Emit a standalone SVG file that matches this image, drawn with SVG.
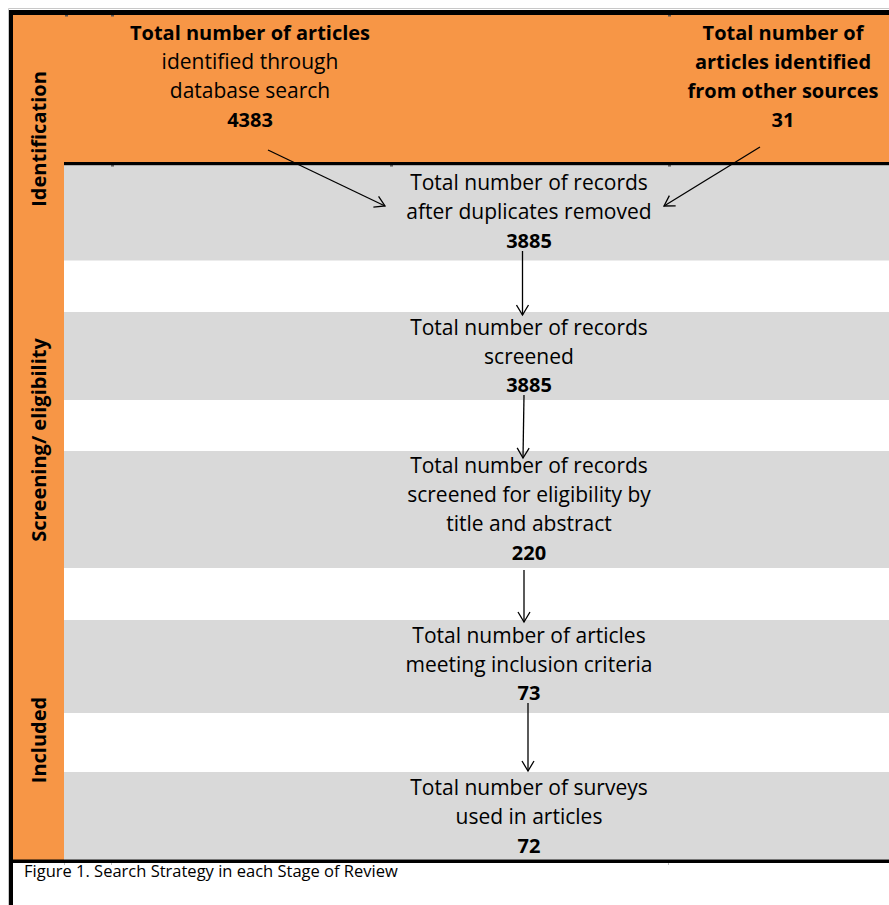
<svg xmlns="http://www.w3.org/2000/svg" width="889" height="905" viewBox="0 0 889 905">
<defs>
<style>
.t{font-family:"Open Sans","Liberation Sans",sans-serif;font-size:21px;fill:#000;text-anchor:middle}
.b{font-weight:bold;font-size:20px}
.lab{font-family:"Open Sans","Liberation Sans",sans-serif;font-size:20px;font-weight:bold;fill:#000;text-anchor:middle}
.cap{font-family:"Open Sans","Liberation Sans",sans-serif;font-size:16.5px;fill:#000}
.or{fill:#F79646}
.gr{fill:#D9D9D9}
.bk{fill:#000}
.tk{fill:#555}
.c{stroke:#000;stroke-width:1.3;fill:none;marker-end:url(#ah)}
</style>
<marker id="ah" markerUnits="userSpaceOnUse" markerWidth="14" markerHeight="14" refX="11" refY="7" orient="auto">
<path d="M1,1 L11,7 L1,13" fill="none" stroke="#000" stroke-width="1.3"/>
</marker>
</defs>
<rect width="889" height="905" fill="#fff"/>
<g id="frame">
<path d="M8.5,905 V8.5 H889" fill="none" stroke="#c8c8c8" stroke-width="1"/>
<rect class="or" x="13" y="15" width="876" height="147"/>
<rect class="or" x="13" y="15" width="51" height="845"/>
<rect class="bk" x="9" y="10" width="880" height="5"/>
<rect class="bk" x="9" y="10" width="4" height="895"/>
<rect class="bk" x="64" y="162" width="825" height="3.5"/>
<rect class="gr" x="64" y="165.5" width="825" height="95"/>
<rect class="gr" x="64" y="312" width="825" height="88"/>
<rect class="gr" x="64" y="451" width="825" height="117"/>
<rect class="gr" x="64" y="620" width="825" height="93"/>
<rect class="gr" x="64" y="772" width="825" height="87.5"/>
<rect class="bk" x="13" y="859.5" width="876" height="3.5"/>
<rect class="tk" x="65" y="15" width="3" height="1.5"/>
<rect class="tk" x="111" y="15" width="3" height="1.5"/>
<rect class="tk" x="668" y="15" width="3" height="1.5"/>
<rect class="tk" x="111" y="165" width="3" height="1.5"/>
<rect class="tk" x="390" y="165" width="3" height="1.5"/>
<rect class="tk" x="668" y="165" width="3" height="1.5"/>
<rect class="tk" x="64" y="863" width="1" height="2" fill-opacity="0.4"/>
<rect class="tk" x="111" y="863" width="1" height="2" fill-opacity="0.4"/>
<rect class="tk" x="668" y="863" width="1" height="2" fill-opacity="0.4"/>
</g>
<g id="stage-identification"><text class="lab" transform="translate(46,139) rotate(-90)">Identification</text></g>
<g id="stage-screening"><text class="lab" transform="translate(46,440) rotate(-90)">Screening/ eligibility</text></g>
<g id="stage-included"><text class="lab" transform="translate(46,740) rotate(-90)">Included</text></g>
<g id="node-database">
<text class="t b" x="250" y="40">Total number of articles</text>
<text class="t" x="250" y="69">identified through</text>
<text class="t" x="250" y="98">database search</text>
<text class="t b" x="250" y="127">4383</text>
</g>
<g id="node-other">
<text class="t b" x="783" y="40">Total number of</text>
<text class="t b" x="783" y="69">articles identified</text>
<text class="t b" x="783" y="98">from other sources</text>
<text class="t b" x="783" y="127">31</text>
</g>
<g id="node-duplicates">
<text class="t" x="529" y="190">Total number of records</text>
<text class="t" x="529" y="219">after duplicates removed</text>
<text class="t b" x="529" y="248">3885</text>
</g>
<g id="node-screened">
<text class="t" x="529" y="335">Total number of records</text>
<text class="t" x="529" y="364">screened</text>
<text class="t b" x="529" y="392">3885</text>
</g>
<g id="node-eligibility">
<text class="t" x="529" y="473">Total number of records</text>
<text class="t" x="529" y="502">screened for eligibility by</text>
<text class="t" x="529" y="531">title and abstract</text>
<text class="t b" x="529" y="560">220</text>
</g>
<g id="node-inclusion">
<text class="t" x="529" y="643">Total number of articles</text>
<text class="t" x="529" y="672">meeting inclusion criteria</text>
<text class="t b" x="529" y="700">73</text>
</g>
<g id="node-surveys">
<text class="t" x="529" y="795">Total number of surveys</text>
<text class="t" x="529" y="824">used in articles</text>
<text class="t b" x="529" y="853">72</text>
</g>
<g id="connectors">
<line class="c" x1="268" y1="150" x2="385" y2="206"/>
<line class="c" x1="760" y1="147" x2="664" y2="206"/>
<line class="c" x1="522.5" y1="251" x2="522.5" y2="315"/>
<line class="c" x1="524" y1="395" x2="523" y2="458"/>
<line class="c" x1="524" y1="570" x2="524" y2="622"/>
<line class="c" x1="528" y1="703" x2="528" y2="771"/>
</g>
<g id="caption"><text class="cap" x="24" y="877">Figure 1. Search Strategy in each Stage of Review</text></g>
</svg>
